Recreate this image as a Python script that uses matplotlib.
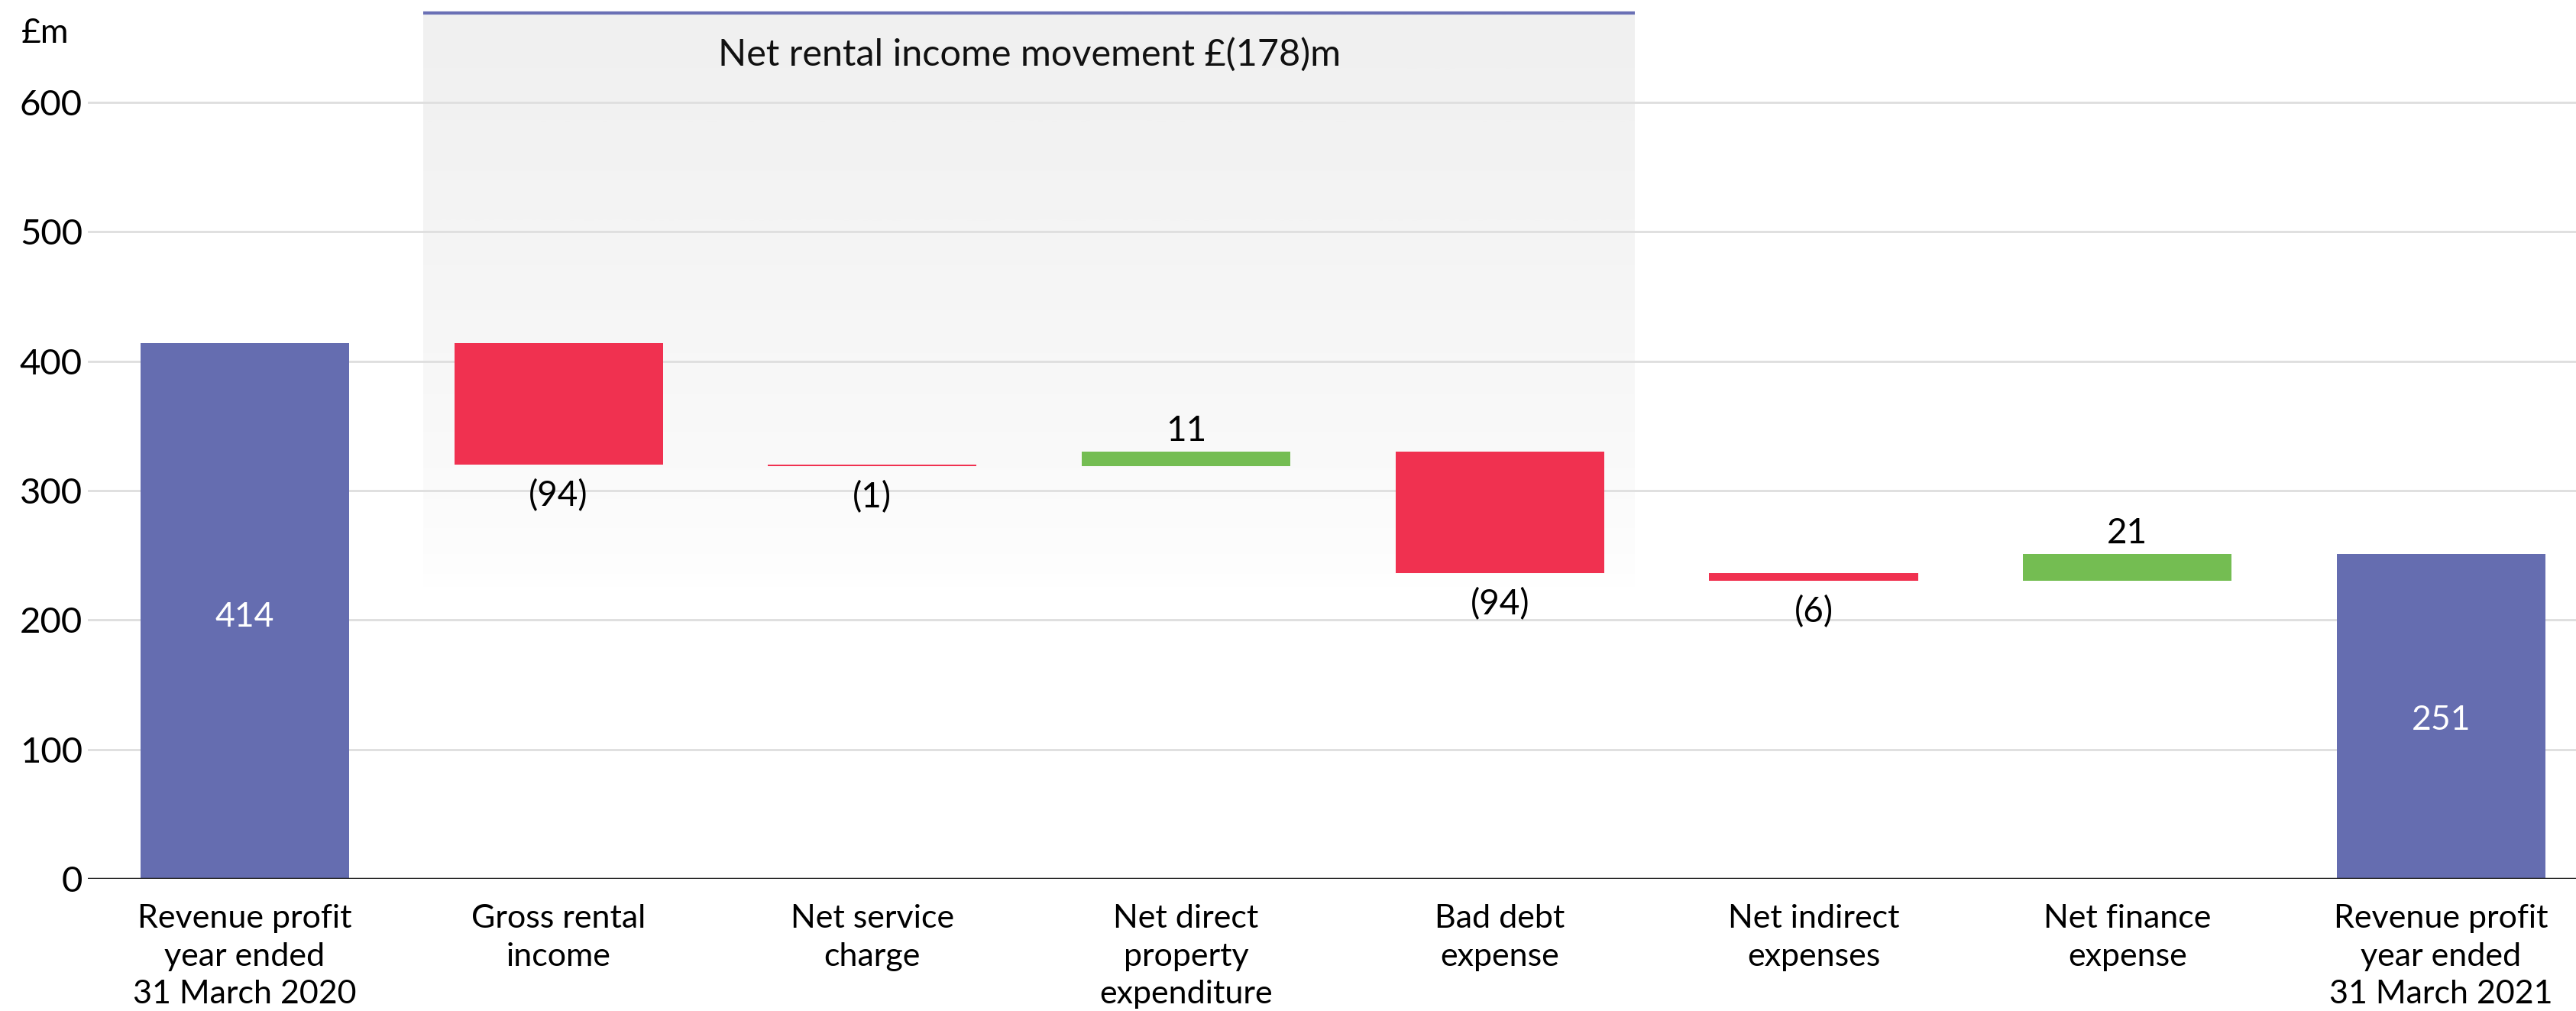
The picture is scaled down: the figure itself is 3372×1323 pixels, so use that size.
import numpy as np
import matplotlib.pyplot as plt
from matplotlib.colors import LinearSegmentedColormap

# Data
categories = ["Revenue profit\nyear ended\n31 March 2020", "Gross rental\nincome",
              "Net service\ncharge", "Net direct\nproperty\nexpenditure", "Bad debt\nexpense",
              "Net indirect\nexpenses", "Net finance\nexpense",
              "Revenue profit\nyear ended\n31 March 2021"]
start_total = 414
changes = [-94, -1, 11, -94, -6, 21]
end_total = 251
band_text = "Net rental income movement £(178)m"
yticks = [0, 100, 200, 300, 400, 500, 600]

PURPLE = "#656db0"
RED = "#f03150"
GREEN = "#74bd52"


def fmt(v):
    return "({})".format(abs(v)) if v < 0 else str(v)


def main():
    plt.rcParams['font.family'] = ['Lato', 'DejaVu Sans']
    fig = plt.figure(figsize=(33.72, 13.23), dpi=100)
    ax = fig.add_axes([115 / 3372, 173 / 1323, 1 - 115 / 3372, 1 - 173 / 1323])
    ax.set_xlim(-0.5, 7.43)
    ax.set_ylim(0, 679)

    # shaded band for net rental income movement
    cmap = LinearSegmentedColormap.from_list("band", ["#ffffff", "#f0f0f0"])
    grad = np.linspace(0, 1, 256).reshape(-1, 1) ** 0.7
    ax.imshow(grad, cmap=cmap, extent=[0.57, 4.43, 225, 669], origin='lower',
              aspect='auto', zorder=0.5, vmin=0, vmax=1)
    ax.plot([0.57, 4.43], [669, 669], color="#6a70b5", lw=3, solid_capstyle='butt', zorder=3)
    ax.text(2.5, 637, band_text, ha='center', va='center', fontsize=35,
            color='#111111', zorder=4)

    # gridlines
    for t in yticks[1:]:
        ax.axhline(t, color="#dedede", lw=2, zorder=1)
    ax.axhline(0, color="#111111", lw=2.5, zorder=4)

    width = 0.665
    # opening total
    ax.bar(0, start_total, width=width, color=PURPLE, zorder=2)
    ax.text(0, start_total / 2 - 5, str(start_total), ha='center', va='center',
            color='white', fontsize=32, zorder=5)

    level = start_total
    for i, c in enumerate(changes, start=1):
        col = GREEN if c > 0 else RED
        ax.bar(i, c, bottom=level, width=width, color=col, zorder=2)
        new = level + c
        if c > 0:
            ax.text(i, new + 16, fmt(c), ha='center', va='center', fontsize=33, zorder=5)
        else:
            ax.text(i, new - 24, fmt(c), ha='center', va='center', fontsize=33, zorder=5)
        level = new

    ax.bar(7, end_total, width=width, color=PURPLE, zorder=2)
    ax.text(7, end_total / 2 - 3, str(end_total), ha='center', va='center',
            color='white', fontsize=32, zorder=5)

    for s in ax.spines.values():
        s.set_visible(False)
    ax.set_yticks(yticks)
    ax.set_yticklabels([str(t) for t in yticks], fontsize=34)
    ax.tick_params(axis='y', length=0, pad=5)
    ax.set_xticks(range(len(categories)))
    ax.set_xticklabels(categories, fontsize=31, linespacing=1.37)
    ax.tick_params(axis='x', length=0, pad=24)

    fig.text(28 / 3372, 1 - 43 / 1323, "£m", ha='left', va='center', fontsize=32)

    fig.savefig("out.png", dpi=100)


if __name__ == "__main__":
    main()
